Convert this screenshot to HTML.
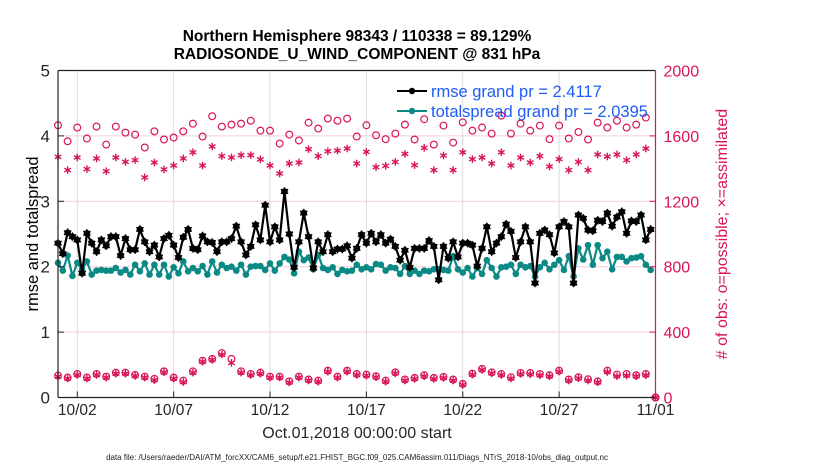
<!DOCTYPE html>
<html><head><meta charset="utf-8"><style>
body{margin:0;background:#fff;}
svg{display:block;font-family:"Liberation Sans",Arial,sans-serif;}
</style></head><body>
<svg id="chart" width="830" height="470" viewBox="0 0 830 470" xmlns="http://www.w3.org/2000/svg">
<rect width="830" height="470" fill="#fff"/>
<text x="357" y="41" text-anchor="middle" font-size="15.5" font-weight="bold">Northern Hemisphere 98343 / 110338 = 89.129%</text>
<text x="357" y="59" text-anchor="middle" font-size="15.5" font-weight="bold">RADIOSONDE_U_WIND_COMPONENT @ 831 hPa</text>
<g id="grid"></g>
<g id="marks"></g>
<g id="axes"></g>
<text transform="translate(38,234) rotate(-90)" text-anchor="middle" font-size="16.5">rmse and totalspread</text>
<text transform="translate(727,234) rotate(-90)" text-anchor="middle" font-size="16" fill="#d8145a"># of obs: o=possible; ×=assimilated</text>
<text x="357" y="438" text-anchor="middle" font-size="16" fill="#262626">Oct.01,2018 00:00:00 start</text>
<text x="357" y="460" text-anchor="middle" font-size="8" fill="#222">data file: /Users/raeder/DAI/ATM_forcXX/CAM6_setup/f.e21.FHIST_BGC.f09_025.CAM6assim.011/Diags_NTrS_2018-10/obs_diag_output.nc</text>
<g>
<line x1="397" y1="91" x2="427" y2="91" stroke="#000" stroke-width="2"/>
<circle cx="412" cy="91" r="3.2" fill="#000"/>
<text x="431" y="97" font-size="16.5" fill="#1f5cf5">rmse grand pr = 2.4117</text>
<line x1="397" y1="111" x2="427" y2="111" stroke="#0b8a85" stroke-width="2"/>
<circle cx="412" cy="111" r="3.2" fill="#0b8a85"/>
<text x="431" y="117" font-size="16.5" fill="#1f5cf5">totalspread grand pr = 2.0395</text>
</g>
</svg>
<script>
const rmse=[2.36,2.20,2.52,2.46,2.41,1.90,2.51,2.36,2.23,2.41,2.32,2.46,2.46,2.17,2.43,2.26,2.26,2.57,2.38,2.23,2.33,2.15,2.43,2.48,2.33,2.14,2.45,2.57,2.28,2.26,2.47,2.38,2.37,2.23,2.38,2.38,2.43,2.62,2.38,2.18,2.31,2.64,
2.41,2.94,2.38,2.61,2.41,3.15,2.50,1.99,2.38,2.82,2.46,1.98,2.38,2.23,2.49,2.23,2.27,2.27,2.32,2.13,2.28,2.49,2.36,2.51,2.38,2.49,2.36,2.42,2.31,2.10,2.25,1.99,2.28,2.28,2.28,2.40,2.31,1.80,2.31,2.13,2.38,2.15,
2.36,2.36,2.33,2.01,2.28,2.61,2.23,2.36,2.46,2.65,2.54,2.14,2.38,2.61,2.38,1.75,2.51,2.56,2.49,2.21,2.61,2.69,2.61,1.75,2.79,2.74,2.56,2.55,2.71,2.69,2.82,2.62,2.76,2.84,2.51,2.70,2.69,2.79,2.41,2.57];
const spread=[2.06,1.94,2.17,1.86,2.06,1.96,2.08,1.88,1.94,1.95,1.94,1.94,1.98,1.91,1.95,1.88,2.03,1.93,2.05,1.88,2.03,1.88,2.03,1.85,1.99,1.90,2.08,1.93,1.98,1.93,2.01,1.88,2.08,1.91,2.03,1.98,2.00,1.94,2.03,1.88,2.00,2.01,
2.01,1.95,2.05,1.94,2.05,2.15,2.11,1.90,2.23,2.10,2.14,1.96,2.18,1.98,1.95,1.99,1.89,1.95,1.93,1.94,2.03,1.96,1.99,1.96,2.04,2.03,1.94,1.99,1.98,1.89,2.01,1.89,1.94,1.89,1.94,1.93,1.96,1.96,1.95,1.94,2.16,1.96,
1.91,1.98,1.85,1.98,1.89,2.10,1.98,1.85,1.99,2.00,2.03,1.89,2.03,1.99,2.01,1.85,1.99,2.06,1.96,2.03,2.10,1.95,2.16,1.85,2.28,2.11,2.33,2.03,2.33,2.13,2.23,1.96,2.15,2.15,2.08,2.13,2.14,2.16,2.03,1.95];
const possibleTop=[1665,1567,1651,1584,1657,1547,1657,1620,1608,1529,1628,1578,1590,1628,1675,1596,1720,1657,1669,1675,1693,1632,1632,1553,1608,1572,1681,1645,1706,1693,1706,1596,
1665,1604,1580,1614,1669,1578,1702,1547,1663,1559,1683,1632,1651,1614,1724,1614,1675,1632,1663,1580,1663,1584,1624,1578,1681,1651,1693,1651,1669,1712,0];
const assimTop=[1472,1391,1468,1397,1462,1384,1468,1441,1452,1346,1437,1395,1419,1462,1500,1419,1535,1476,1468,1482,1482,1456,1419,1370,1431,1437,1519,1476,1506,1510,1523,1431,
1502,1409,1417,1441,1490,1421,1527,1391,1480,1391,1500,1458,1468,1431,1500,1419,1468,1437,1476,1413,1458,1391,1441,1391,1486,1474,1486,1452,1486,1523,0];
const possibleLow=[134,122,144,122,144,128,152,152,138,128,114,160,122,103,160,225,236,272,236,160,144,152,128,128,99,128,110,103,164,128,164,144,
140,130,103,154,110,120,136,120,126,110,83,146,175,154,144,124,150,150,144,136,164,110,124,112,99,164,140,144,136,144,0];
const assimLow=[128,116,138,116,138,122,146,146,132,122,106,154,116,94,152,219,230,262,212,152,138,146,122,122,92,122,104,97,158,122,158,138,
134,124,97,148,104,114,130,114,120,104,77,140,169,148,138,116,144,142,136,130,158,104,118,104,93,156,130,134,130,136,0];
const leftTicks=[0,1,2,3,4,5];
const rightTicks=[0,400,800,1200,1600,2000];
const xTickLabels=["10/02","10/07","10/12","10/17","10/22","10/27","11/01"];
const xTickDays=[1,6,11,16,21,26,31];

const X0=58,X1=655.5,Y0=397.5,Y1=70.5;
const xs=d=>X0+d*(X1-X0)/31;
const yl=v=>Y0-v*(Y0-Y1)/5;
const yr=v=>Y0-v*(Y0-Y1)/2000;
const NS="http://www.w3.org/2000/svg";
function mk(tag,attrs,parent){const e=document.createElementNS(NS,tag);for(const k in attrs)e.setAttribute(k,attrs[k]);parent.appendChild(e);return e;}
const grid=document.getElementById('grid'),marks=document.getElementById('marks'),axes=document.getElementById('axes');

xTickDays.forEach((d,i)=>{
  const g=mk('line',{x1:xs(d),x2:xs(d),y1:Y1,y2:Y0,stroke:'#dcdcdc','stroke-width':1},grid);
  
  
  const t=mk('line',{x1:xs(d),x2:xs(d),y1:Y0,y2:Y0-6,stroke:'#222'},axes);
  
  
  const l=mk('text',{x:xs(d),y:415,'text-anchor':'middle','font-size':15.5,fill:'#262626'},axes);
  l.textContent=xTickLabels[i];
  
  
});
leftTicks.forEach(v=>{
  if(v>0&&v<5){const g=mk('line',{x1:X0,x2:X1,y1:yl(v),y2:yl(v),stroke:'#f4cfdc','stroke-width':1},grid);
  
  }
  const t=mk('line',{x1:X0,x2:X0+6,y1:yl(v),y2:yl(v),stroke:'#222'},axes);
  
  
  const l=mk('text',{x:X0-8,y:yl(v)+6,'text-anchor':'end','font-size':17,fill:'#262626'},axes);
  l.textContent=v;
  
  
});
rightTicks.forEach(v=>{
  const t=mk('line',{x1:X1,x2:X1-6,y1:yr(v),y2:yr(v),stroke:'#d8145a'},axes);
  
  
  const l=mk('text',{x:X1+8,y:yr(v)+6,'font-size':16,fill:'#d8145a'},axes);
  l.textContent=v;
  
  
});
const box=[[X0,Y1,X1,Y1,'#222'],[X0,Y0,X1,Y0,'#222'],[X0,Y1,X0,Y0,'#222'],[X1,Y1,X1,Y0,'#d8145a']];
box.forEach(b=>{const e=mk('line',{x1:b[0],y1:b[1],x2:b[2],y2:b[3],stroke:b[4],'stroke-width':1.2},axes);
  
  });

function star(cx,cy,r,col,parent){
  const g=mk('g',{stroke:col,'stroke-width':1.4},parent);
  mk('line',{x1:cx,y1:cy-r,x2:cx,y2:cy+r},g);
  mk('line',{x1:cx-r*0.87,y1:cy-r*0.5,x2:cx+r*0.87,y2:cy+r*0.5},g);
  mk('line',{x1:cx-r*0.87,y1:cy+r*0.5,x2:cx+r*0.87,y2:cy-r*0.5},g);
  return g;
}
const C='#d8145a';
function obs(arrP,arrA,nameP,nameA){
  arrP.forEach((v,i)=>{const c=mk('circle',{cx:xs(i*0.5),cy:yr(v),r:3.4,fill:'none',stroke:C,'stroke-width':1.2},marks);
    
    });
  arrA.forEach((v,i)=>{const s=star(xs(i*0.5),yr(v),3.8,C,marks);
    
    });
}
obs(possibleTop,assimTop,'obs-possible-point','obs-assimilated-point');
obs(possibleLow,assimLow,'obs-possible-point','obs-assimilated-point');

function series(arr,col,name,isStar){
  const pts=arr.map((v,i)=>xs(i*0.25)+','+yl(v)).join(' ');
  const pl=mk('polyline',{points:pts,fill:'none',stroke:col,'stroke-width':2.2,'stroke-linejoin':'round'},marks);
  
  
  arr.forEach((v,i)=>{const c=mk('circle',{cx:xs(i*0.25),cy:yl(v),r:3.3,fill:col},marks);
    
    
    if(isStar)star(xs(i*0.25),yl(v),4.2,col,marks);});
}
series(spread,'#0b8a85','totalspread',false);
series(rmse,'#000','rmse',true);
</script>
</body></html>
